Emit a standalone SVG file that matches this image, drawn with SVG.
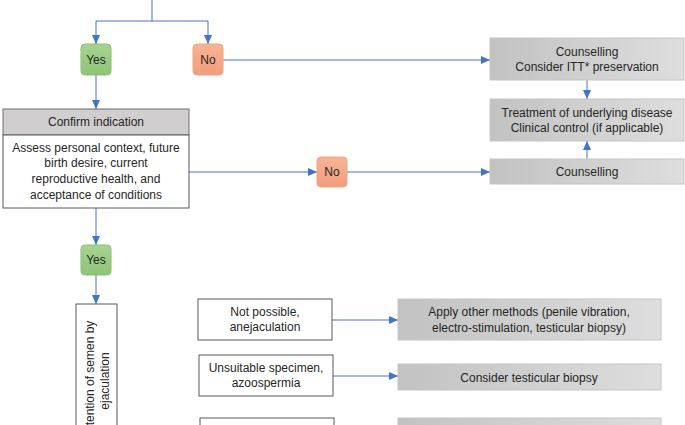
<svg xmlns="http://www.w3.org/2000/svg" width="685" height="425" viewBox="0 0 685 425">
<defs>
<linearGradient id="gray" x1="0" y1="0" x2="1" y2="0">
<stop offset="0" stop-color="#c2c2c2"/>
<stop offset="1" stop-color="#dedede"/>
</linearGradient>
<linearGradient id="green" x1="0" y1="0" x2="0" y2="1">
<stop offset="0" stop-color="#a6d491"/>
<stop offset="1" stop-color="#8ec476"/>
</linearGradient>
<linearGradient id="orange" x1="0" y1="0" x2="0" y2="1">
<stop offset="0" stop-color="#f8b496"/>
<stop offset="1" stop-color="#f29d7b"/>
</linearGradient>
<marker id="arr" markerUnits="userSpaceOnUse" markerWidth="9" markerHeight="8" refX="9" refY="4" orient="auto">
<path d="M0,0 L9,4 L0,8 Z" fill="#4472c4"/>
</marker>
</defs>
<style>
text{font-family:"Liberation Sans",Arial,sans-serif;font-size:12px;fill:#262626;text-anchor:middle}
.g{fill:url(#gray);stroke:#c6c6c6;stroke-width:1}
.w{fill:#ffffff;stroke:#595959;stroke-width:1}
.yes{fill:url(#green);stroke:#8cbd72;stroke-width:1}
.no{fill:url(#orange);stroke:#f0a283;stroke-width:1}
.hd{fill:#d0cecf;stroke:#6f6f6f;stroke-width:1}
.c{fill:none;stroke:#4472c4;stroke-width:1}
.a{marker-end:url(#arr)}
</style>
<g id="connectors">
<path class="c" d="M152,0 V21 M96,21 H208"/>
<path class="c a" d="M96,21 V44"/>
<path class="c a" d="M208,21 V44"/>
<path class="c a" d="M96,75 V109"/>
<path class="c a" d="M223,60 H490"/>
<path class="c a" d="M189,172 H317"/>
<path class="c a" d="M347,172 H490"/>
<path class="c a" d="M587,80 V99"/>
<path class="c a" d="M587,159 V141"/>
<path class="c a" d="M96,208 V245"/>
<path class="c a" d="M96,275 V304"/>
<path class="c a" d="M332,320 H398"/>
<path class="c a" d="M333,376 H398"/>
</g>
<g id="yes1"><rect class="yes" x="81" y="44" width="30" height="31" rx="4"/><text x="96" y="64">Yes</text></g>
<g id="no1"><rect class="no" x="193" y="44" width="30" height="31" rx="4"/><text x="208" y="64">No</text></g>
<g id="counselling1"><rect class="g" x="490" y="38" width="194" height="42"/><text x="587" y="56">Counselling</text><text x="587" y="71">Consider ITT* preservation</text></g>
<g id="treatment"><rect class="g" x="490" y="99" width="194" height="42"/><text x="587" y="117">Treatment of underlying disease</text><text x="587" y="132">Clinical control (if applicable)</text></g>
<g id="counselling2"><rect class="g" x="490" y="159" width="194" height="25"/><text x="587" y="176">Counselling</text></g>
<g id="confirm"><rect class="hd" x="3" y="109" width="186" height="26"/><text x="96" y="126">Confirm indication</text>
<rect class="w" x="3" y="135" width="186" height="73"/>
<text x="96" y="152">Assess personal context, future</text>
<text x="96" y="167">birth desire, current</text>
<text x="96" y="183">reproductive health, and</text>
<text x="96" y="199">acceptance of conditions</text></g>
<g id="no2"><rect class="no" x="317" y="157" width="30" height="30" rx="4"/><text x="332" y="176">No</text></g>
<g id="yes2"><rect class="yes" x="81" y="245" width="30" height="30" rx="4"/><text x="96" y="264">Yes</text></g>
<g id="obtention"><rect class="w" x="76" y="304" width="41" height="130"/>
<text transform="translate(94,381) rotate(-90)">Obtention of semen by</text>
<text transform="translate(109,381) rotate(-90)">ejaculation</text></g>
<g id="notpossible"><rect class="w" x="198" y="299" width="134" height="41"/><text x="265" y="316">Not possible,</text><text x="265" y="331">anejaculation</text></g>
<g id="unsuitable"><rect class="w" x="199" y="355" width="134" height="41"/><text x="266" y="372">Unsuitable specimen,</text><text x="266" y="387">azoospermia</text></g>
<g id="apply"><rect class="g" x="398" y="299" width="263" height="41"/><text x="529" y="316">Apply other methods (penile vibration,</text><text x="529" y="332">electro-stimulation, testicular biopsy)</text></g>
<g id="biopsy"><rect class="g" x="398" y="364" width="263" height="26"/><text x="529" y="382">Consider testicular biopsy</text></g>
<g id="row3left"><rect class="w" x="200" y="418" width="134" height="20"/></g>
<g id="row3right"><rect class="g" x="398" y="418" width="263" height="20"/></g>
</svg>
